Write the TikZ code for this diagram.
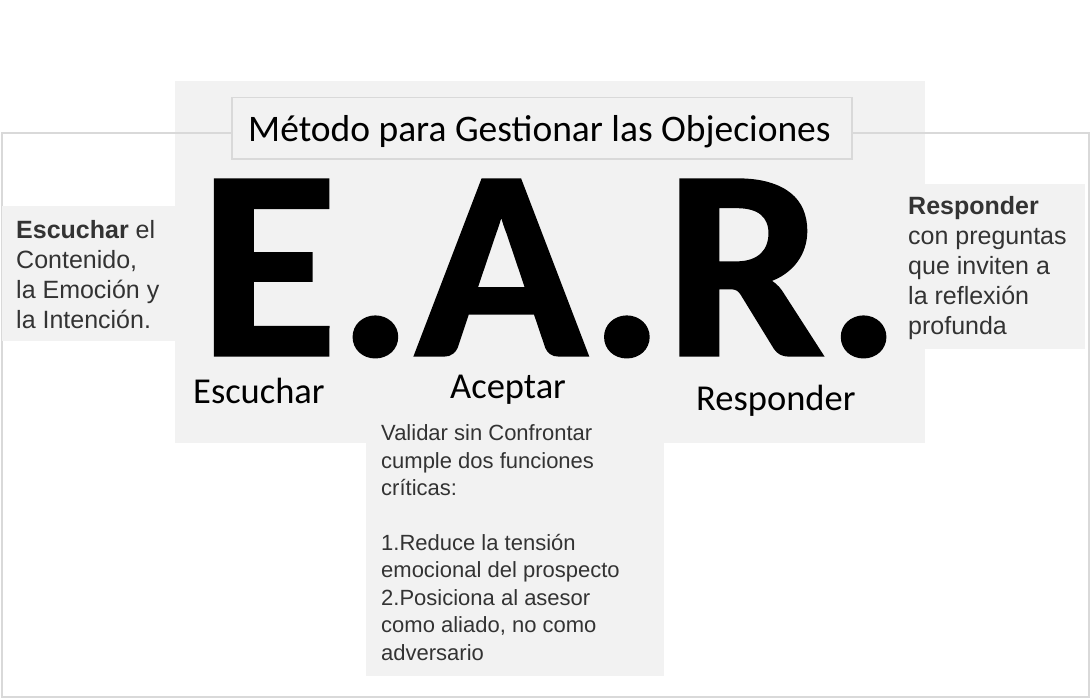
\documentclass[tikz,border=0pt]{standalone}
\usepackage{fontspec}
\setmainfont{Liberation Sans}
\newfontfamily\carlito{Carlito}
\newfontfamily\carlitoheavy[FakeBold=1.2]{Carlito Bold}
\usetikzlibrary{positioning}
\definecolor{panelgray}{HTML}{F2F2F2}
\definecolor{linegray}{HTML}{D9D9D9}
\definecolor{notetext}{HTML}{333333}

\begin{document}
\begin{tikzpicture}[x=1pt, y=-1pt,
  greybox/.style={fill=panelgray, draw=none, inner sep=0pt, anchor=north west},
  note/.style={anchor=base west, inner sep=0pt, align=left, text=notetext},
  label/.style={anchor=base west, inner sep=0pt, text height=26pt, font=\carlito\fontsize{36.5}{40}\selectfont}]
  \useasboundingbox (0,0) rectangle (1091,698);

  % Panel behind the letters
  \node[greybox, minimum width=750, minimum height=362] (panel) at (175,81) {};

  % Outer frame
  \draw[linegray, line width=1.5pt] (2,133) rectangle (1089,697);

  % Title
  \node[greybox, draw=linegray, line width=1.5pt, minimum width=620, minimum height=61] (titlebox) at (231,97) {};
  \node[anchor=base west, inner sep=0pt, font=\carlito\fontsize{37.5}{42}\selectfont] (title) at (248,141)
    {Método para Gestionar las Objeciones};

  % Big letters
  \node[anchor=base west, inner sep=0pt, text depth=0pt, font=\carlitoheavy\fontsize{270}{290}\selectfont] (ear) at (199,355)
    {\scalebox{1.05}[1]{E.A.R.}};

  % Labels under the letters
  \node[label] (escuchar) at (193,403) {Escuchar};
  \node[label] (aceptar) at (450,398) {Aceptar};
  \node[label] (responder) at (696,410) {Responder};

  % Side notes (base = last line)
  \node[greybox, minimum width=173, minimum height=135] (leftbox) at (2,206) {};
  \node[note, font=\fontsize{25}{30}\selectfont] (leftnote) at (16,328)
    {\textbf{Escuchar} el\\Contenido,\\la Emoción y\\la Intención.};

  \node[greybox, minimum width=192, minimum height=165] (rightbox) at (893,184) {};
  \node[note, font=\fontsize{25}{30}\selectfont] (rightnote) at (908,334)
    {\textbf{Responder}\\con preguntas\\que inviten a\\la reflexión\\profunda};

  \node[greybox, minimum width=298, minimum height=256] (midbox) at (366,420) {};
  \node[note, font=\fontsize{22}{27.4}\selectfont] (midnote) at (381,660)
    {Validar sin Confrontar\\cumple dos funciones\\críticas:\\ \\1.Reduce la tensión\\emocional del prospecto\\2.Posiciona al asesor\\como aliado, no como\\adversario};
\end{tikzpicture}
\end{document}
